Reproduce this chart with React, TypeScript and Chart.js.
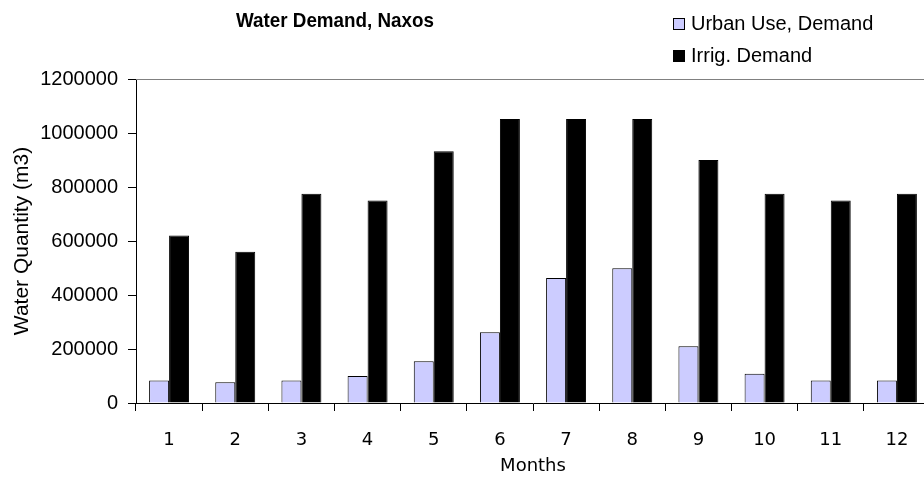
import React, { useEffect, useRef } from "react";
import { Chart, registerables } from "chart.js";

Chart.register(...registerables);

const months = ["1", "2", "3", "4", "5", "6", "7", "8", "9", "10", "11", "12"];
const urbanDemand = [83000, 77000, 83000, 100000, 155000, 262000, 463000, 499000, 210000, 108000, 83000, 83000];
const irrigDemand = [620000, 560000, 775000, 750000, 932000, 1052000, 1052000, 1052000, 900000, 775000, 750000, 775000];
const seriesNames = ["Urban Use, Demand", "Irrig. Demand"];
const seriesColors = ["#ccccff", "#000000"];
const chartTitle = "Water Demand, Naxos";
const yTitle = "Water Quantity (m3)";
const xTitle = "Months";

const overlayPlugin = {
  id: "overlay",
  afterDraw(chart: any) {
    const ctx = chart.ctx;
    const a = chart.chartArea;
    ctx.save();
    // top border of plot area
    ctx.strokeStyle = "#808080";
    ctx.lineWidth = 1;
    ctx.beginPath();
    ctx.moveTo(a.left, Math.round(a.top) + 0.5);
    ctx.lineTo(a.right, Math.round(a.top) + 0.5);
    ctx.stroke();
    // title
    ctx.fillStyle = "#000";
    ctx.font = "bold 21px 'Liberation Sans', Arial, sans-serif";
    ctx.textAlign = "left";
    ctx.textBaseline = "middle";
    const w = ctx.measureText(chartTitle).width;
    const sx = Math.min(1, 198 / w);
    ctx.save();
    ctx.translate(236, 21);
    ctx.scale(sx, 1);
    ctx.fillText(chartTitle, 0, 0);
    ctx.restore();
    // legend
    ctx.font = "20px 'Liberation Sans', Arial, sans-serif";
    const rows = [24, 56];
    seriesNames.forEach((name, i) => {
      const y = rows[i];
      ctx.fillStyle = seriesColors[i];
      ctx.fillRect(673, y - 6, 12, 12);
      ctx.strokeStyle = "#000";
      ctx.strokeRect(673.5, y - 5.5, 11, 11);
      ctx.fillStyle = "#000";
      ctx.fillText(name, 691, y);
    });
    ctx.restore();
  },
};

export default function App() {
  const ref = useRef<HTMLCanvasElement>(null);
  useEffect(() => {
    if (!ref.current) return;
    const chart = new Chart(ref.current, {
      type: "bar",
      data: {
        labels: months,
        datasets: [
          {
            label: seriesNames[0],
            data: urbanDemand,
            backgroundColor: seriesColors[0],
            borderColor: "#000",
            borderWidth: 1,
            categoryPercentage: 0.604,
            barPercentage: 1,
          },
          {
            label: seriesNames[1],
            data: irrigDemand,
            backgroundColor: seriesColors[1],
            borderColor: "#000",
            borderWidth: 1,
            categoryPercentage: 0.604,
            barPercentage: 1,
          },
        ],
      },
      options: {
        animation: false,
        responsive: false,
        maintainAspectRatio: false,
        layout: { padding: { top: 79, left: 0, right: 0, bottom: 0 } },
        plugins: {
          legend: { display: false },
          title: { display: false },
          tooltip: { enabled: false },
        },
        scales: {
          x: {
            offset: true,
            grid: { offset: true, drawOnChartArea: false, drawTicks: true, tickLength: 8, color: "#000" },
            border: { color: "#000", width: 1 },
            ticks: { color: "#000", font: { family: "'DejaVu Sans', Verdana, sans-serif", size: 18 }, padding: 19, maxRotation: 0 },
            title: { display: true, text: xTitle, color: "#000", font: { family: "'DejaVu Sans', Verdana, sans-serif", size: 18 }, padding: { top: 0, bottom: 2 } },
            afterFit: (s: any) => { s.height = 76; },
          },
          y: {
            min: 0,
            max: 1200000,
            ticks: {
              stepSize: 200000,
              color: "#000",
              font: { family: "'Liberation Sans', Arial, sans-serif", size: 20 },
              padding: 10,
              callback: (v: any) => String(v),
            },
            grid: { drawOnChartArea: false, drawTicks: true, tickLength: 8, color: "#000" },
            border: { color: "#000", width: 1 },
            title: { display: true, text: yTitle, color: "#000", font: { family: "'Liberation Sans', Arial, sans-serif", size: 21 }, padding: { top: 10, bottom: 0 } },
            afterFit: (s: any) => { s.width = 136; },
          },
        },
      },
      plugins: [overlayPlugin],
    });
    return () => chart.destroy();
  }, []);
  return (
    <div style={{ position: "absolute", left: 0, top: 0, width: 924, height: 479, overflow: "hidden", background: "#fff" }}>
      <canvas ref={ref} width={930} height={479} style={{ display: "block" }} />
    </div>
  );
}
